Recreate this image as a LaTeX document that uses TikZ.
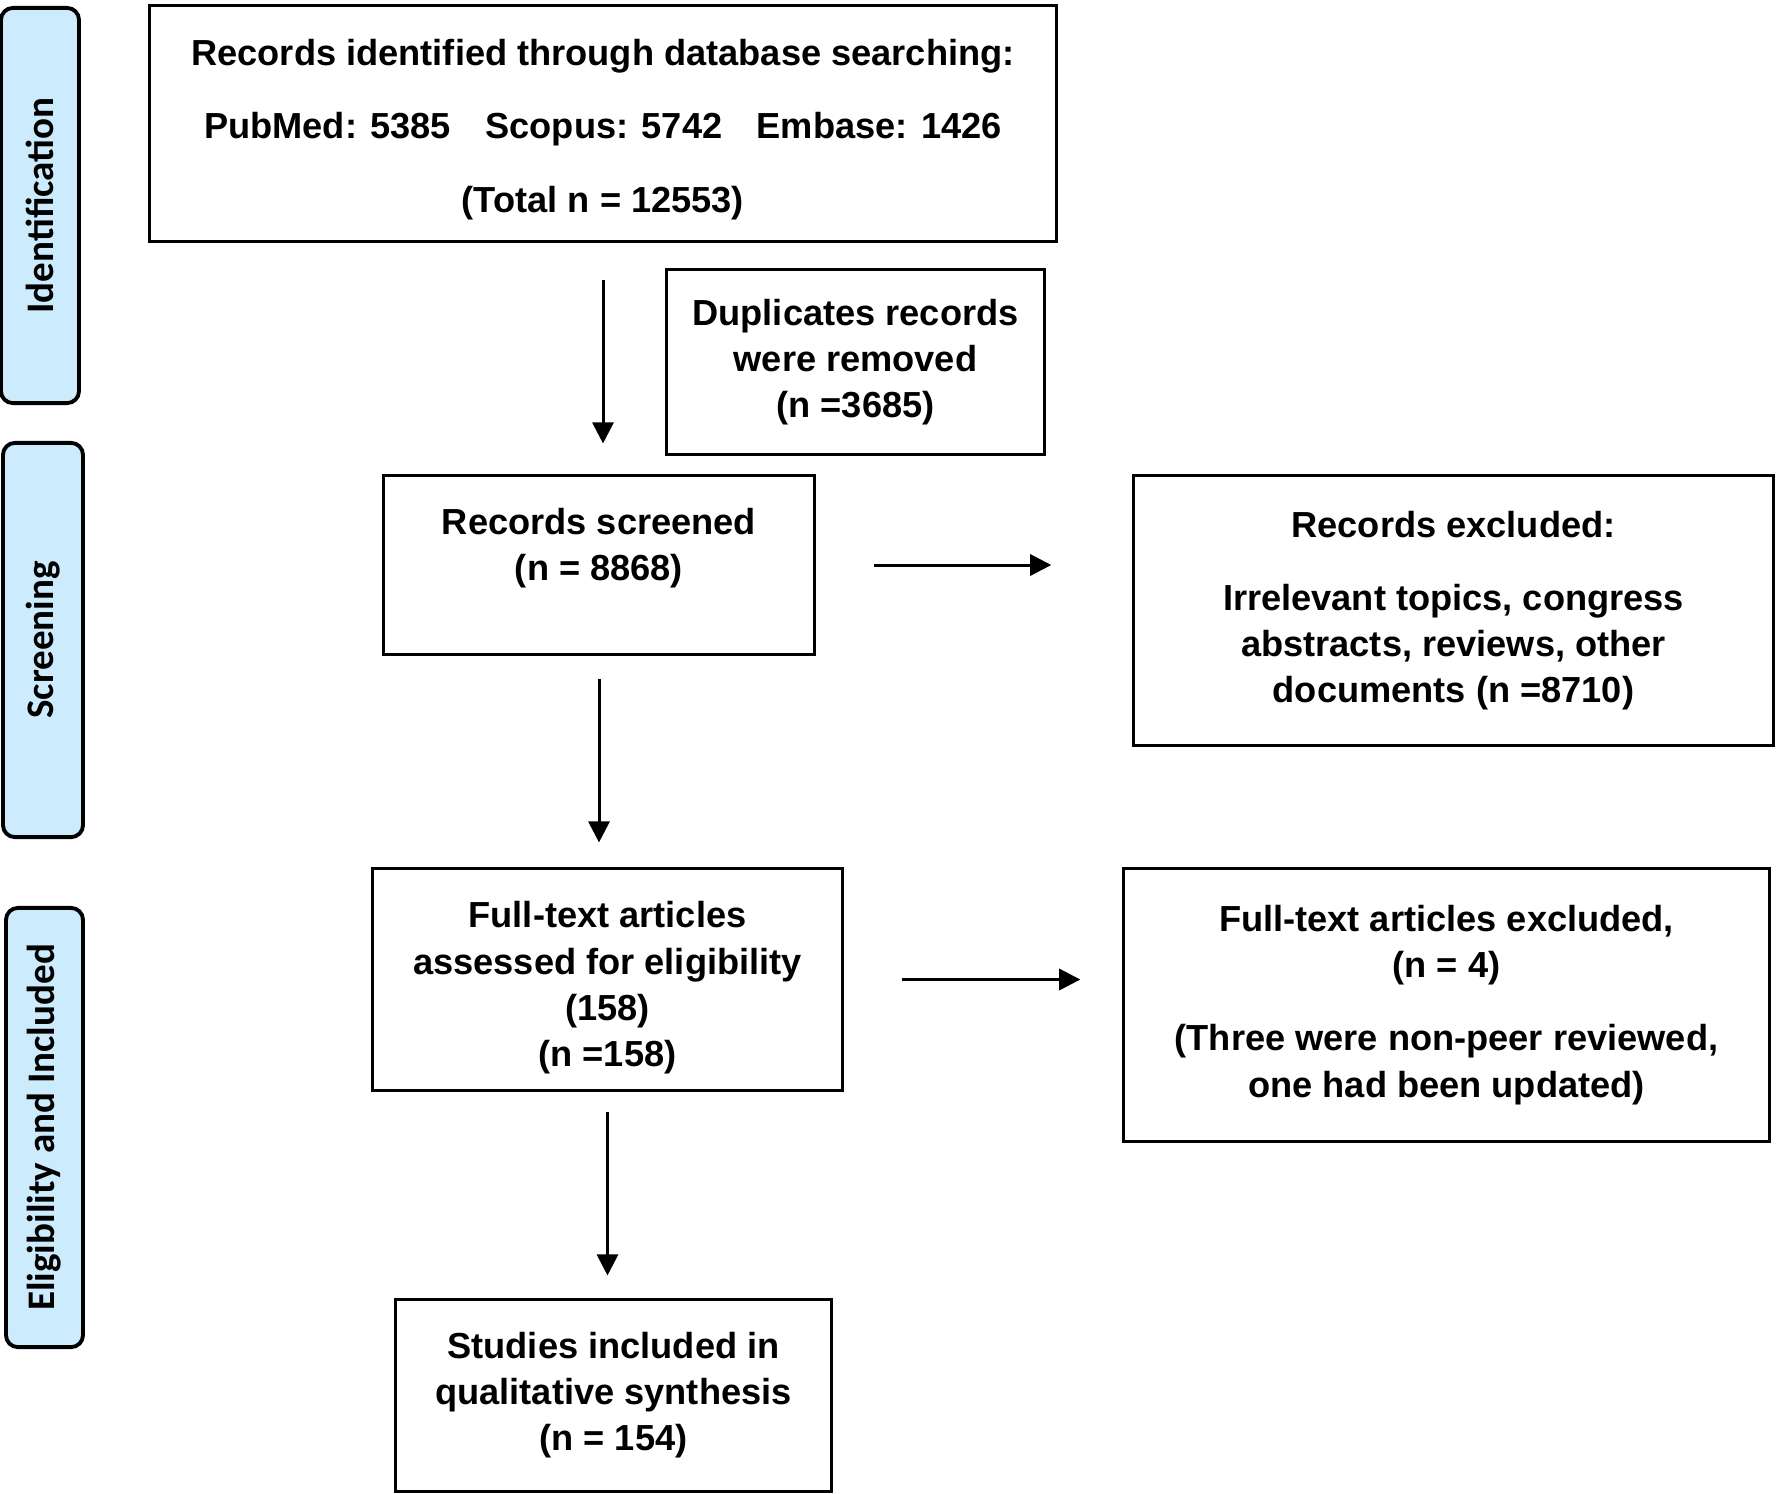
\documentclass[tikz,border=0pt]{standalone}
\usepackage{fontspec}
\setmainfont{Liberation Sans}
\newfontfamily\barfont{Carlito}
\usetikzlibrary{arrows.meta}
\definecolor{barblue}{RGB}{204,235,252}
\newcommand\boxfont{\fontsize{10.3pt}{13.1pt}\selectfont\bfseries}
\newcommand\phasefont{\barfont\fontsize{11.1pt}{13pt}\selectfont\bfseries}

\begin{document}
\begin{tikzpicture}[x=0.01cm,y=-0.01cm,line width=0.85pt,-{Triangle[length=6pt,width=6pt]}]
  \tikzstyle{phase}=[draw,line width=1.1pt,fill=barblue,rounded corners=0.12cm,rotate=90,font=\phasefont,inner sep=0pt]
  \tikzstyle{box}=[draw,align=center,font=\boxfont,inner sep=0pt]
  \useasboundingbox (0,0) rectangle (1776,1493);

  % phases
  \node[phase,minimum width=3.95cm,minimum height=0.78cm] (P_1) at (40,205.5) {Identification};
  \node[phase,minimum width=3.94cm,minimum height=0.80cm] (P_2) at (43,640) {Screening};
  \node[phase,minimum width=4.39cm,minimum height=0.77cm] (P_3) at (44.5,1127.5) {Eligibility and Included};

  % boxes
  \node[box,minimum width=9.06cm,minimum height=2.35cm] (B_1) at (603,123.5)
    {\mbox{}\\[-2.2pt]Records identified through database searching:\\[7.7pt]
     PubMed: 5385\hspace{0.95em}Scopus: 5742\hspace{0.95em}Embase: 1426\\[7.7pt]
     (Total n = 12553)};
  \node[box,minimum width=3.77cm,minimum height=1.84cm] (B_2) at (855.5,362)
    {Duplicates records\\were removed\\(n =3685)};
  \node[box,minimum width=4.30cm,minimum height=1.78cm] (B_3) at (599,565)
    {Records screened\\(n = 8868)\\[-1.6pt]\mbox{}};
  \node[box,minimum width=6.39cm,minimum height=2.69cm] (B_4) at (1453.5,610.5)
    {Records excluded:\\[7.7pt]Irrelevant topics, congress\\abstracts, reviews, other\\documents (n =8710)};
  \node[box,minimum width=4.69cm,minimum height=2.21cm] (B_5) at (607.5,979.5)
    {\mbox{}\\[-1pt]Full-text articles\\assessed for eligibility\\(158)\\(n =158)};
  \node[box,minimum width=6.45cm,minimum height=2.72cm] (B_6) at (1446.5,1005)
    {Full-text articles excluded,\\(n = 4)\\[7.7pt](Three were non-peer reviewed,\\one had been updated)};
  \node[box,minimum width=4.35cm,minimum height=1.91cm] (B_7) at (613.5,1395.5)
    {Studies included in\\qualitative synthesis\\(n = 154)};

  % arrows
  \draw[shorten <=0.37cm,shorten >=0.31cm] (B_1.south) -- (B_1.south |- B_3.north);
  \draw[shorten <=0.23cm,shorten >=0.25cm] (B_3.south) -- (B_3.south |- B_5.north);
  \draw[shorten <=0.20cm,shorten >=0.23cm] (B_5.south) -- (B_5.south |- B_7.north);
  \draw[shorten <=0.58cm,shorten >=0.81cm] (B_3.east) -- (B_3.east -| B_4.west);
  \draw[shorten <=0.58cm,shorten >=0.42cm] (B_5.east) -- (B_5.east -| B_6.west);
\end{tikzpicture}
\end{document}
